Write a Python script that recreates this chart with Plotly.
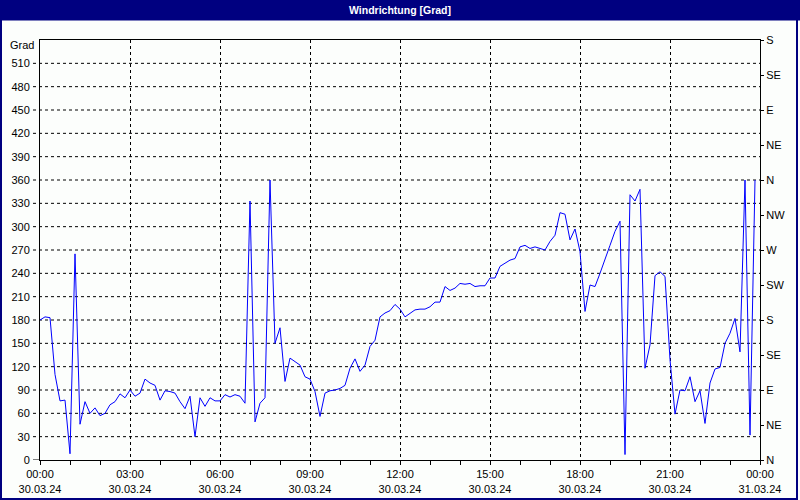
import pandas as pd
import plotly.graph_objects as go

# ---- data ----
start_time = "2024-03-30 00:00"
interval = "10min"
direction_deg = [
    180, 184, 183, 110, 76, 77, 8, 265, 46, 75,
    60, 67, 57, 60, 71, 75, 85, 80, 90, 82,
    86, 104, 99, 96, 77, 89, 88, 86, 75, 66,
    82, 30, 80, 69, 80, 76, 76, 84, 81, 84,
    82, 73, 333, 49, 73, 80, 360, 150, 170, 101,
    131, 126, 122, 107, 104, 88, 56, 86, 89, 90,
    92, 96, 118, 130, 114, 122, 146, 154, 184, 189,
    192, 200, 194, 184, 189, 193, 194, 194, 197, 203,
    203, 223, 218, 221, 227, 226, 227, 223, 224, 224,
    234, 234, 249, 253, 257, 259, 274, 276, 272, 274,
    272, 270, 281, 289, 318, 316, 283, 297, 268, 191,
    225, 223, 240, 257, 276, 294, 307, 7, 341, 333,
    348, 118, 148, 237, 242, 236, 129, 59, 90, 89,
    107, 75, 89, 47, 99, 117, 119, 150, 163, 182,
    139, 360, 32, 360,
]
left_ticks = list(range(0, 511, 30))
right_ticks = list(range(0, 541, 45))
right_labels = ["N", "NE", "E", "SE", "S", "SW", "W", "NW", "N", "NE", "E", "SE", "S"]
x_major = pd.date_range("2024-03-30 00:00", "2024-03-31 00:00", freq="3h")
x_minor = pd.date_range("2024-03-30 00:00", "2024-03-31 00:00", freq="1h")
x_labels = [t.strftime("%H:%M") + "<br>" + t.strftime("%d.%m.%y") for t in x_major]

times = pd.date_range(start_time, periods=len(direction_deg), freq=interval)

# ---- geometry helpers (pixel -> paper) ----
W, H = 800, 500
ML, MR, MT, MB = 40, 40, 40, 40
PW, PH = W - ML - MR, H - MT - MB
def px(x):
    return (x - ML) / PW
def py(y):
    return (H - MB - y) / PH

BG = "#FCFEFC"
NAVY = "#000080"
FONT = "Liberation Sans"

fig = go.Figure()
fig.add_trace(go.Scatter(x=times, y=direction_deg, mode="lines",
                         line=dict(color="#0000FF", width=1),
                         showlegend=False, hoverinfo="x+y"))
fig.add_trace(go.Scatter(x=[times[0]], y=[0], yaxis="y2", mode="markers",
                         marker=dict(opacity=0), showlegend=False, hoverinfo="skip"))

shapes = []
# horizontal dashed gridlines extending left of the axis
for v in left_ticks[1:]:
    shapes.append(dict(type="line", xref="paper", yref="y", x0=px(33), x1=1, y0=v, y1=v,
                       line=dict(color="black", width=1, dash="3px,3px"), layer="below"))
shapes.append(dict(type="line", xref="paper", yref="y", x0=px(33), x1=0, y0=0, y1=0,
                   line=dict(color="black", width=1)))
# window frame
shapes.append(dict(type="rect", xref="paper", yref="paper", x0=px(0), x1=px(800), y0=py(0), y1=py(20.5),
                   fillcolor=NAVY, line=dict(width=0), layer="above"))
shapes.append(dict(type="rect", xref="paper", yref="paper", x0=px(0), x1=px(2), y0=py(20), y1=py(500),
                   fillcolor=NAVY, line=dict(width=0), layer="above"))
shapes.append(dict(type="rect", xref="paper", yref="paper", x0=px(796), x1=px(798), y0=py(20), y1=py(500),
                   fillcolor=NAVY, line=dict(width=0), layer="above"))
shapes.append(dict(type="rect", xref="paper", yref="paper", x0=px(0), x1=px(798), y0=py(498), y1=py(500),
                   fillcolor=NAVY, line=dict(width=0), layer="above"))

fig.update_layout(
    width=W, height=H,
    margin=dict(l=ML, r=MR, t=MT, b=MB, autoexpand=False),
    paper_bgcolor=BG, plot_bgcolor=BG,
    font=dict(family=FONT, size=11, color="black"),
    shapes=shapes,
    annotations=[
        dict(text="<b>Windrichtung [Grad]</b>", xref="paper", yref="paper", x=0.5, y=py(10),
             showarrow=False, font=dict(family=FONT, size=10.5, color="white"),
             xanchor="center", yanchor="middle"),
        dict(text="Grad", xref="paper", yref="paper", x=px(36), y=py(45),
             showarrow=False, xanchor="right", yanchor="middle",
             font=dict(family=FONT, size=11, color="black")),
    ],
    xaxis=dict(
        type="date", automargin=False,
        range=[x_major[0], x_major[-1]],
        tickmode="array", tickvals=list(x_major), ticktext=x_labels,
        ticks="outside", ticklen=4, tickcolor="black",
        showgrid=True, gridcolor="black", griddash="3px,3px", gridwidth=1,
        showline=True, linecolor="black", linewidth=1, mirror=True,
        zeroline=False,
        minor=dict(tickmode="array", tickvals=list(x_minor), ticks="outside",
                   ticklen=4, tickcolor="black", showgrid=False),
    ),
    yaxis=dict(
        range=[0, 540], automargin=False,
        tickmode="array", tickvals=left_ticks, ticktext=[str(v) for v in left_ticks],
        ticks="outside", ticklen=7, tickcolor="rgba(0,0,0,0)",
        showgrid=False, zeroline=False,
        showline=True, linecolor="black", linewidth=1, mirror=True,
    ),
    yaxis2=dict(
        range=[0, 540], overlaying="y", side="right", automargin=False,
        tickmode="array", tickvals=right_ticks, ticktext=right_labels,
        ticks="outside", ticklen=3, tickcolor="black",
        showgrid=False, zeroline=False,
        showline=True, linecolor="black", linewidth=1,
    ),
)

fig.write_html("out.html", config={"displayModeBar": False},
               post_script="document.body.style.margin='0';document.body.style.overflow='hidden';")
